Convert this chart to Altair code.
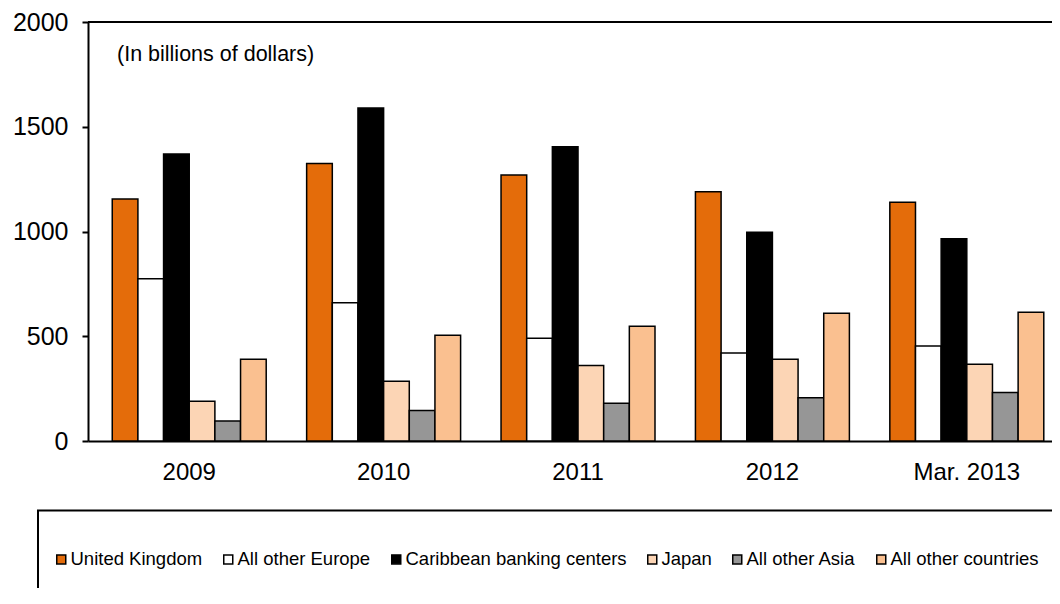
import altair as alt
import pandas as pd

years = ["2009", "2010", "2011", "2012", "Mar. 2013"]
series = ["United Kingdom", "All other Europe", "Caribbean banking centers",
          "Japan", "All other Asia", "All other countries"]
uk = [1155, 1325, 1270, 1190, 1140]
europe = [775, 660, 490, 420, 453]
caribbean = [1370, 1590, 1405, 996, 965]
japan = [190, 285, 360, 390, 366]
asia = [95, 145, 180, 207, 232]
other = [390, 505, 548, 610, 614]
colors = ["#E46C0A", "#FFFFFF", "#000000", "#FCD5B5", "#969696", "#FAC090"]
y_ticks = [0, 500, 1000, 1500, 2000]
note = "(In billions of dollars)"

rows = []
for s, vals in zip(series, [uk, europe, caribbean, japan, asia, other]):
    for yr, v in zip(years, vals):
        rows.append({"year": yr, "series": s, "value": v})
df = pd.DataFrame(rows)
one = pd.DataFrame({"a": [0]})

FONT = "Liberation Sans, Arial, sans-serif"

bars = alt.Chart(df).mark_bar(stroke="black", strokeWidth=1.5).encode(
    x=alt.X("year:N", sort=years,
            scale=alt.Scale(paddingInner=0.208, paddingOuter=0.0835, align=0.747),
            axis=alt.Axis(title=None, ticks=False, labelAngle=0, labelFontSize=24,
                          labelPadding=19, labelColor="black", domainColor="black",
                          domainWidth=2, labelFont=FONT)),
    xOffset=alt.XOffset("series:N", sort=series,
                        scale=alt.Scale(paddingInner=0, paddingOuter=0)),
    y=alt.Y("value:Q", scale=alt.Scale(domain=[0, 2000]),
            axis=alt.Axis(values=y_ticks, format="d", title=None, grid=False, tickSize=6,
                          tickWidth=2, tickColor="black", domainColor="black",
                          domainWidth=2, labelFontSize=25, labelPadding=14,
                          labelColor="black", labelFont=FONT)),
    color=alt.Color("series:N", sort=series,
                    scale=alt.Scale(domain=series, range=colors),
                    legend=alt.Legend(title=None, orient="none", legendX=-36,
                                      legendY=528, direction="horizontal",
                                      symbolType="square", symbolSize=81,
                                      symbolStrokeColor="black", symbolStrokeWidth=1.5,
                                      labelFontSize=18.5, labelFont=FONT,
                                      labelColor="black", labelOffset=0,
                                      columnPadding=16, padding=0, labelLimit=400)),
)

top_rule = alt.Chart(one).mark_rule(color="black", strokeWidth=2).encode(
    y=alt.datum(2000)
)

note_text = alt.Chart(one).mark_text(
    align="left", baseline="middle", fontSize=21.5, font=FONT, color="black", text=note
).encode(x=alt.value(29), y=alt.value(33))

legend_box = alt.Chart(one).mark_rect(
    fill="transparent", stroke="black", strokeWidth=2, clip=False
).encode(x=alt.value(-50), x2=alt.value(1100), y=alt.value(488.5), y2=alt.value(800))

chart = alt.layer(bars, top_rule, note_text, legend_box).properties(
    width=964, height=419,
    autosize=alt.AutoSizeParams(type="none"),
    padding={"left": 80, "top": 14, "right": 0, "bottom": 147},
).configure_view(strokeWidth=0)

chart.save("out.html", embed_options={"renderer": "svg", "actions": False})
